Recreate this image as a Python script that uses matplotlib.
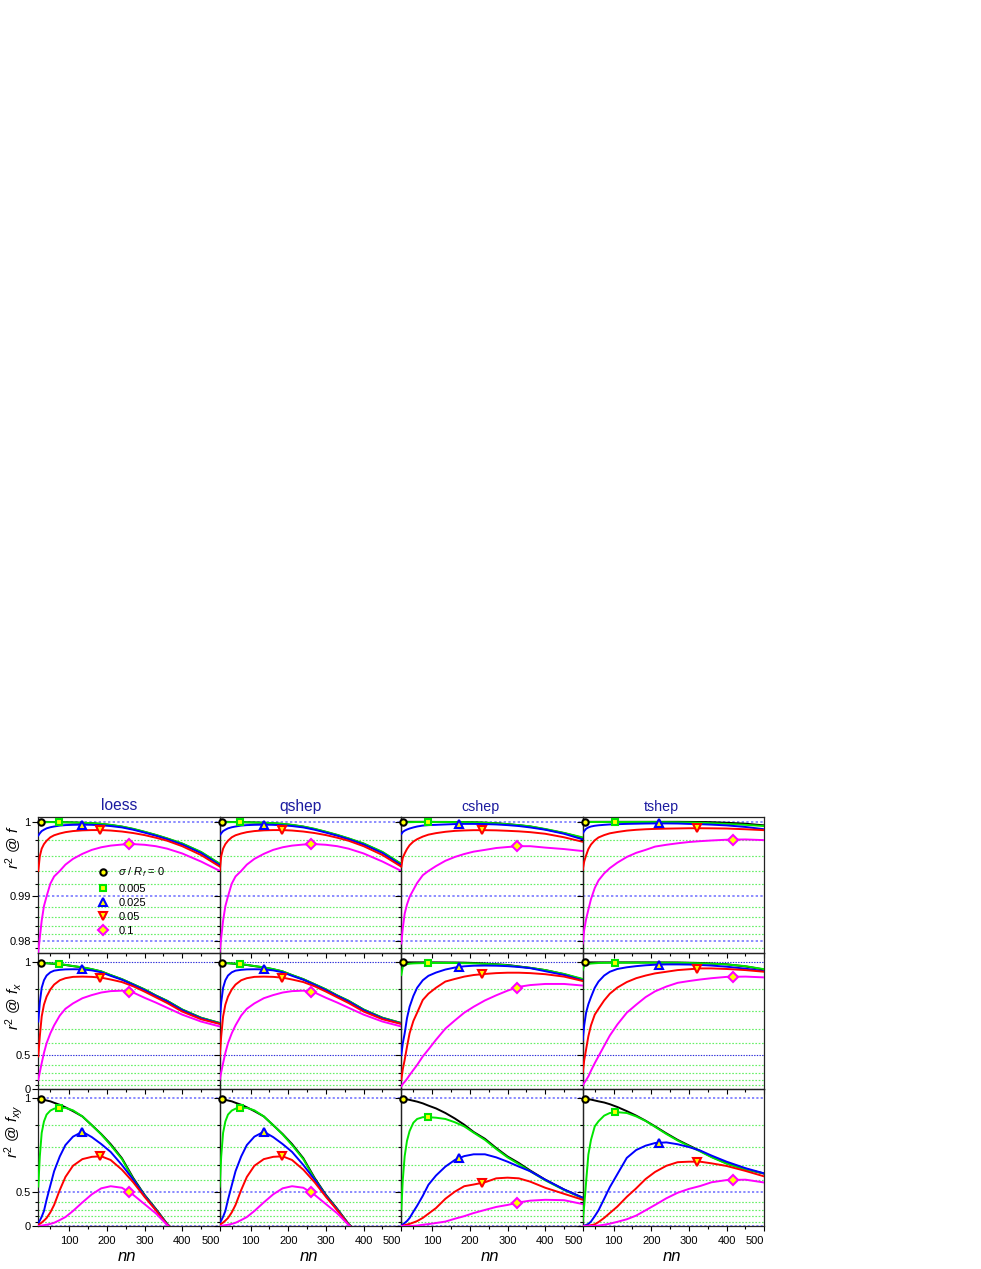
import numpy as np
import matplotlib
matplotlib.use("Agg")
import matplotlib.pyplot as plt
from matplotlib.lines import Line2D
from matplotlib.ticker import FixedLocator, FixedFormatter, NullFormatter

plt.rcParams['font.family'] = ['Liberation Sans', 'DejaVu Sans']
plt.rcParams['mathtext.fontset'] = 'custom'
plt.rcParams['mathtext.rm'] = 'Liberation Sans'
plt.rcParams['mathtext.it'] = 'Liberation Sans:italic'
plt.rcParams['mathtext.bf'] = 'Liberation Sans:bold'

# ---------------- data ----------------
nn = [18, 22, 27, 33, 40, 50, 60, 75, 90, 110, 135, 160, 185, 210, 240, 270, 300, 330, 360, 400, 450, 500]

methods = ['loess', 'qshep', 'cshep', 'tshep']
noise_labels = [r'$\sigma$ / $R_f$ = 0', '0.005', '0.025', '0.05', '0.1']
row_labels = [r'$r^2$ @ $f$', r'$r^2$ @ $f_x$', r'$r^2$ @ $f_{xy}$']

# optimal nn (marker positions) per method, one per noise level
loess_opt = [24, 73, 133, 182, 259]
qshep_opt = [24, 71, 135, 184, 259]
cshep_opt = [23, 90, 171, 231, 324]
tshep_opt = [24, 104, 221, 322, 416]

# r^2 @ f  (rows: sigma = 0, 0.005, 0.025, 0.05, 0.1)
loess_f = [
    [1.0, 1.0, 1.0, 1.0, 0.99999, 0.99998, 0.99997, 0.99996, 0.99995, 0.99993, 0.9999, 0.99985, 0.99977, 0.99966, 0.99948, 0.99922, 0.9989, 0.99855, 0.99815, 0.99755, 0.9965, 0.99495],
    [0.99985, 0.9999, 0.99993, 0.99995, 0.99996, 0.99997, 0.99997, 0.99996, 0.99995, 0.99993, 0.9999, 0.99986, 0.99979, 0.99968, 0.9995, 0.99925, 0.99893, 0.99858, 0.99818, 0.99758, 0.99655, 0.995],
    [0.9985, 0.99875, 0.999, 0.99915, 0.9993, 0.99942, 0.9995, 0.9996, 0.99965, 0.99968, 0.9997, 0.99968, 0.99963, 0.99955, 0.9994, 0.99915, 0.99883, 0.99848, 0.99808, 0.99745, 0.9964, 0.9948],
    [0.994, 0.996, 0.99695, 0.9975, 0.9979, 0.9983, 0.99853, 0.99873, 0.99888, 0.999, 0.99908, 0.99911, 0.99911, 0.99906, 0.99895, 0.99878, 0.99855, 0.99825, 0.9979, 0.99725, 0.99615, 0.9946],
    [0.9765, 0.981, 0.9852, 0.9882, 0.99, 0.9921, 0.9932, 0.994, 0.99488, 0.99565, 0.9963, 0.9968, 0.99712, 0.99732, 0.99745, 0.9975, 0.99742, 0.99725, 0.99695, 0.99635, 0.9953, 0.994],
]
qshep_f = [
    [1.0, 1.0, 1.0, 1.0, 0.99999, 0.99998, 0.99997, 0.99996, 0.99995, 0.99993, 0.9999, 0.99985, 0.99977, 0.99966, 0.99948, 0.99922, 0.9989, 0.99855, 0.99815, 0.99755, 0.9965, 0.99495],
    [0.99985, 0.9999, 0.99993, 0.99995, 0.99996, 0.99997, 0.99997, 0.99996, 0.99995, 0.99993, 0.9999, 0.99986, 0.99979, 0.99968, 0.9995, 0.99925, 0.99893, 0.99858, 0.99818, 0.99758, 0.99655, 0.995],
    [0.9985, 0.99875, 0.999, 0.99915, 0.9993, 0.99942, 0.9995, 0.9996, 0.99965, 0.99968, 0.9997, 0.99968, 0.99963, 0.99955, 0.9994, 0.99915, 0.99883, 0.99848, 0.99808, 0.99745, 0.9964, 0.9948],
    [0.994, 0.996, 0.99695, 0.9975, 0.9979, 0.9983, 0.99853, 0.99873, 0.99888, 0.999, 0.99908, 0.99911, 0.99911, 0.99906, 0.99895, 0.99878, 0.99855, 0.99825, 0.9979, 0.99725, 0.99615, 0.9946],
    [0.9765, 0.981, 0.9852, 0.9882, 0.99, 0.9921, 0.9932, 0.994, 0.99488, 0.99565, 0.9963, 0.9968, 0.99712, 0.99732, 0.99745, 0.9975, 0.99742, 0.99725, 0.99695, 0.99635, 0.9953, 0.994],
]
cshep_f = [
    [1.0, 1.0, 1.0, 1.0, 1.0, 1.0, 1.0, 1.0, 1.0, 0.99999, 0.99999, 0.99998, 0.99997, 0.99995, 0.99991, 0.99985, 0.99975, 0.99964, 0.9995, 0.9992, 0.99877, 0.99822],
    [0.99985, 0.9999, 0.99993, 0.99995, 0.99996, 0.99997, 0.99998, 0.99998, 0.99998, 0.99998, 0.99998, 0.99997, 0.99996, 0.99994, 0.9999, 0.99984, 0.99975, 0.99965, 0.99952, 0.99923, 0.9988, 0.99828],
    [0.99866, 0.9989, 0.99905, 0.99917, 0.99928, 0.9994, 0.9995, 0.9996, 0.99965, 0.99968, 0.99972, 0.99976, 0.99978, 0.99978, 0.99976, 0.99972, 0.99965, 0.99955, 0.9994, 0.99915, 0.9987, 0.99805],
    [0.9946, 0.9958, 0.99635, 0.9969, 0.99737, 0.9978, 0.99808, 0.99838, 0.9986, 0.99877, 0.99892, 0.99902, 0.99907, 0.9991, 0.9991, 0.99908, 0.99903, 0.99897, 0.99888, 0.9987, 0.9983, 0.99777],
    [0.9793, 0.9835, 0.9867, 0.9885, 0.9899, 0.9911, 0.9922, 0.99338, 0.994, 0.99468, 0.9954, 0.9959, 0.99628, 0.99658, 0.9968, 0.99703, 0.99715, 0.99725, 0.99725, 0.99708, 0.9969, 0.99665],
]
tshep_f = [
    [1.0, 1.0, 1.0, 1.0, 1.0, 1.0, 1.0, 1.0, 1.0, 1.0, 1.0, 1.0, 1.0, 1.0, 1.0, 1.0, 0.99999, 0.99998, 0.99996, 0.9999, 0.9998, 0.99962],
    [0.99988, 0.99992, 0.99995, 0.99997, 0.99998, 0.99998, 0.99998, 0.99998, 0.99998, 0.99998, 0.99998, 0.99998, 0.99998, 0.99997, 0.99996, 0.99995, 0.99993, 0.9999, 0.99985, 0.99978, 0.99968, 0.99955],
    [0.99874, 0.999, 0.99925, 0.9994, 0.9995, 0.99958, 0.99963, 0.99968, 0.99972, 0.99975, 0.99978, 0.9998, 0.99982, 0.99983, 0.99983, 0.99982, 0.99978, 0.99975, 0.9997, 0.99962, 0.99945, 0.9992],
    [0.99415, 0.9953, 0.9961, 0.9969, 0.99745, 0.99795, 0.99828, 0.99855, 0.99875, 0.9989, 0.99905, 0.99914, 0.9992, 0.99924, 0.99927, 0.99929, 0.99931, 0.99931, 0.9993, 0.99928, 0.9992, 0.9991],
    [0.9793, 0.983, 0.9855, 0.9875, 0.9895, 0.9914, 0.9926, 0.99365, 0.9944, 0.99515, 0.9959, 0.99643, 0.9968, 0.9972, 0.99742, 0.9976, 0.99775, 0.99785, 0.99793, 0.99802, 0.99805, 0.99797],
]

# r^2 @ f_x
loess_fx = [
    [1.0, 0.9995, 0.999, 0.998, 0.9972, 0.996, 0.995, 0.9935, 0.991, 0.987, 0.9825, 0.976, 0.968, 0.9545, 0.939, 0.919, 0.898, 0.872, 0.848, 0.806, 0.763, 0.733],
    [0.998, 0.998, 0.998, 0.9975, 0.997, 0.9965, 0.9955, 0.994, 0.9915, 0.9875, 0.983, 0.9765, 0.9685, 0.955, 0.9395, 0.9195, 0.8985, 0.8725, 0.8485, 0.8065, 0.7635, 0.7335],
    [0.742, 0.84, 0.905, 0.935, 0.953, 0.965, 0.971, 0.974, 0.9755, 0.976, 0.9755, 0.972, 0.965, 0.952, 0.937, 0.917, 0.895, 0.87, 0.845, 0.803, 0.76, 0.73],
    [0.488, 0.65, 0.77, 0.83, 0.867, 0.898, 0.918, 0.935, 0.943, 0.948, 0.949, 0.948, 0.945, 0.938, 0.928, 0.911, 0.889, 0.864, 0.838, 0.796, 0.755, 0.728],
    [0.196, 0.31, 0.42, 0.52, 0.6, 0.67, 0.72, 0.775, 0.81, 0.836, 0.86, 0.874, 0.885, 0.891, 0.893, 0.885, 0.862, 0.84, 0.815, 0.78, 0.742, 0.713],
]
qshep_fx = [
    [1.0, 0.9995, 0.999, 0.998, 0.9972, 0.996, 0.995, 0.9935, 0.991, 0.987, 0.9825, 0.976, 0.968, 0.9545, 0.939, 0.919, 0.898, 0.872, 0.848, 0.806, 0.763, 0.733],
    [0.998, 0.998, 0.998, 0.9975, 0.997, 0.9965, 0.9955, 0.994, 0.9915, 0.9875, 0.983, 0.9765, 0.9685, 0.955, 0.9395, 0.9195, 0.8985, 0.8725, 0.8485, 0.8065, 0.7635, 0.7335],
    [0.742, 0.84, 0.905, 0.935, 0.953, 0.965, 0.971, 0.974, 0.9755, 0.976, 0.9755, 0.972, 0.965, 0.952, 0.937, 0.917, 0.895, 0.87, 0.845, 0.803, 0.76, 0.73],
    [0.488, 0.65, 0.77, 0.83, 0.867, 0.898, 0.918, 0.935, 0.943, 0.948, 0.949, 0.948, 0.945, 0.938, 0.928, 0.911, 0.889, 0.864, 0.838, 0.796, 0.755, 0.728],
    [0.196, 0.31, 0.42, 0.52, 0.6, 0.67, 0.72, 0.775, 0.81, 0.836, 0.86, 0.874, 0.885, 0.891, 0.893, 0.885, 0.862, 0.84, 0.815, 0.78, 0.742, 0.713],
]
cshep_fx = [
    [1.0, 1.0, 1.0, 1.0, 1.0, 1.0, 1.0, 1.0, 1.0, 0.9999, 0.9997, 0.9995, 0.999, 0.998, 0.996, 0.9935, 0.991, 0.986, 0.981, 0.973, 0.958, 0.938],
    [0.955, 0.985, 0.9915, 0.994, 0.9955, 0.9965, 0.997, 0.9975, 0.9978, 0.998, 0.998, 0.9978, 0.9972, 0.9965, 0.995, 0.993, 0.99, 0.9855, 0.981, 0.973, 0.959, 0.94],
    [0.503, 0.6, 0.67, 0.76, 0.82, 0.87, 0.905, 0.935, 0.952, 0.964, 0.975, 0.982, 0.9865, 0.9885, 0.989, 0.9885, 0.987, 0.984, 0.98, 0.969, 0.955, 0.934],
    [0.196, 0.35, 0.455, 0.57, 0.67, 0.745, 0.79, 0.852, 0.88, 0.905, 0.93, 0.94, 0.949, 0.955, 0.959, 0.962, 0.9635, 0.9635, 0.962, 0.958, 0.949, 0.932],
    [0.07, 0.12, 0.16, 0.21, 0.27, 0.34, 0.4, 0.488, 0.55, 0.625, 0.7, 0.748, 0.79, 0.82, 0.85, 0.873, 0.893, 0.909, 0.916, 0.9205, 0.9205, 0.914],
]
tshep_fx = [
    [1.0, 1.0, 1.0, 1.0, 1.0, 1.0, 1.0, 1.0, 1.0, 1.0, 1.0, 1.0, 0.9999, 0.9998, 0.9997, 0.9995, 0.9988, 0.998, 0.996, 0.9935, 0.986, 0.975],
    [0.973, 0.988, 0.992, 0.9945, 0.996, 0.997, 0.9978, 0.9983, 0.9986, 0.9988, 0.9988, 0.9988, 0.9988, 0.9988, 0.9988, 0.9985, 0.998, 0.997, 0.9955, 0.993, 0.987, 0.976],
    [0.624, 0.72, 0.79, 0.832, 0.865, 0.905, 0.93, 0.953, 0.967, 0.977, 0.983, 0.987, 0.99, 0.992, 0.993, 0.993, 0.9925, 0.991, 0.989, 0.985, 0.978, 0.969],
    [0.3, 0.45, 0.55, 0.65, 0.72, 0.78, 0.81, 0.85, 0.88, 0.906, 0.928, 0.943, 0.953, 0.961, 0.967, 0.973, 0.976, 0.979, 0.979, 0.977, 0.973, 0.967],
    [0.083, 0.14, 0.19, 0.25, 0.33, 0.42, 0.49, 0.58, 0.655, 0.725, 0.79, 0.83, 0.865, 0.89, 0.91, 0.925, 0.932, 0.938, 0.943, 0.948, 0.949, 0.946],
]

# r^2 @ f_xy
loess_fxy = [
    [1.0, 0.999, 0.997, 0.995, 0.993, 0.99, 0.985, 0.978, 0.969, 0.955, 0.935, 0.9, 0.862, 0.815, 0.74, 0.6125, 0.47, 0.31, 0.05, -0.5, -1.0, -1.5],
    [0.545, 0.75, 0.867, 0.915, 0.942, 0.957, 0.964, 0.967, 0.967, 0.958, 0.935, 0.9, 0.86, 0.81, 0.735, 0.605, 0.465, 0.305, 0.045, -0.5, -1.0, -1.5],
    [0.07, 0.12, 0.19, 0.28, 0.42, 0.555, 0.66, 0.75, 0.81, 0.85, 0.872, 0.848, 0.815, 0.775, 0.7, 0.6, 0.46, 0.3, 0.04, -0.5, -1.0, -1.5],
    [0.03, 0.05, 0.08, 0.12, 0.168, 0.26, 0.36, 0.515, 0.62, 0.695, 0.735, 0.748, 0.751, 0.73, 0.67, 0.58, 0.45, 0.29, 0.035, -0.5, -1.0, -1.5],
    [0.0, 0.005, 0.01, 0.02, 0.03, 0.05, 0.075, 0.13, 0.185, 0.28, 0.39, 0.475, 0.53, 0.548, 0.535, 0.47, 0.37, 0.245, 0.025, -0.5, -1.0, -1.5],
]
qshep_fxy = [
    [1.0, 0.999, 0.997, 0.995, 0.993, 0.99, 0.985, 0.978, 0.969, 0.955, 0.935, 0.9, 0.862, 0.815, 0.74, 0.6125, 0.47, 0.31, 0.05, -0.5, -1.0, -1.5],
    [0.545, 0.75, 0.867, 0.915, 0.942, 0.957, 0.964, 0.967, 0.967, 0.958, 0.935, 0.9, 0.86, 0.81, 0.735, 0.605, 0.465, 0.305, 0.045, -0.5, -1.0, -1.5],
    [0.07, 0.12, 0.19, 0.28, 0.42, 0.555, 0.66, 0.75, 0.81, 0.85, 0.872, 0.848, 0.815, 0.775, 0.7, 0.6, 0.46, 0.3, 0.04, -0.5, -1.0, -1.5],
    [0.03, 0.05, 0.08, 0.12, 0.168, 0.26, 0.36, 0.515, 0.62, 0.695, 0.735, 0.748, 0.751, 0.73, 0.67, 0.58, 0.45, 0.29, 0.035, -0.5, -1.0, -1.5],
    [0.0, 0.005, 0.01, 0.02, 0.03, 0.05, 0.075, 0.13, 0.185, 0.28, 0.39, 0.475, 0.53, 0.548, 0.535, 0.47, 0.37, 0.245, 0.025, -0.5, -1.0, -1.5],
]
cshep_fxy = [
    [1.0, 0.999, 0.998, 0.997, 0.995, 0.992, 0.989, 0.983, 0.975, 0.965, 0.948, 0.927, 0.902, 0.871, 0.84, 0.795, 0.75, 0.712, 0.665, 0.6, 0.52, 0.44],
    [0.3, 0.6, 0.752, 0.83, 0.875, 0.91, 0.925, 0.932, 0.932, 0.93, 0.925, 0.912, 0.895, 0.868, 0.835, 0.79, 0.745, 0.705, 0.66, 0.595, 0.515, 0.435],
    [0.02, 0.04, 0.07, 0.11, 0.168, 0.27, 0.35, 0.46, 0.56, 0.63, 0.69, 0.73, 0.752, 0.762, 0.762, 0.745, 0.72, 0.69, 0.66, 0.6, 0.52, 0.44],
    [0.0, 0.01, 0.02, 0.035, 0.05, 0.08, 0.11, 0.17, 0.24, 0.32, 0.43, 0.5, 0.548, 0.562, 0.58, 0.61, 0.615, 0.61, 0.585, 0.535, 0.48, 0.419],
    [0.0, 0.0, 0.001, 0.002, 0.003, 0.005, 0.01, 0.03, 0.045, 0.07, 0.1, 0.155, 0.2, 0.25, 0.295, 0.335, 0.36, 0.39, 0.41, 0.419, 0.415, 0.37],
]
tshep_fxy = [
    [1.0, 0.999, 0.998, 0.997, 0.996, 0.993, 0.99, 0.986, 0.98, 0.97, 0.955, 0.938, 0.918, 0.895, 0.865, 0.835, 0.808, 0.78, 0.748, 0.71, 0.673, 0.6435],
    [0.11, 0.35, 0.58, 0.76, 0.835, 0.895, 0.916, 0.938, 0.948, 0.951, 0.948, 0.935, 0.917, 0.893, 0.862, 0.832, 0.805, 0.777, 0.746, 0.708, 0.672, 0.645],
    [0.0, 0.01, 0.025, 0.05, 0.1, 0.2, 0.29, 0.43, 0.54, 0.64, 0.742, 0.785, 0.807, 0.82, 0.823, 0.814, 0.8, 0.782, 0.755, 0.72, 0.68, 0.645],
    [0.0, 0.002, 0.005, 0.01, 0.02, 0.04, 0.09, 0.17, 0.25, 0.34, 0.45, 0.53, 0.605, 0.655, 0.695, 0.717, 0.72, 0.72, 0.71, 0.694, 0.662, 0.624],
    [0.0, 0.0, 0.0, 0.001, 0.002, 0.004, 0.01, 0.03, 0.055, 0.095, 0.145, 0.21, 0.29, 0.36, 0.435, 0.49, 0.525, 0.55, 0.58, 0.597, 0.6, 0.578],
]

panels = [
    [loess_f, qshep_f, cshep_f, tshep_f],
    [loess_fx, qshep_fx, cshep_fx, tshep_fx],
    [loess_fxy, qshep_fxy, cshep_fxy, tshep_fxy],
]
opts = [loess_opt, qshep_opt, cshep_opt, tshep_opt]

# ---------------- styles ----------------
line_colors = ['#000000', '#00e600', '#0000ff', '#ff0000', '#ff00ff']
markers = ['o', 's', '^', 'v', 'D']
msizes = [4.6, 5.0, 6.0, 6.0, 5.0]
yellow = '#ffff00'
title_color = '#1c1ca0'

W, H = 981, 1269
fig = plt.figure(figsize=(W / 100, H / 100), dpi=100)

col_left = [38.3, 219.7, 401.3, 582.7]
col_w = 181.6
row_top = [817.0, 953.3, 1089.3]
row_h = [136.3, 136.0, 136.7]

k_top = 50.8
k_low = 2.0


def fwd_top(v):
    return np.exp(k_top * (np.asarray(v, dtype=float) - 1.0))


def inv_top(y):
    return 1.0 + np.log(np.maximum(np.asarray(y, dtype=float), 1e-300)) / k_top


def fwd_low(v):
    return np.exp(k_low * np.asarray(v, dtype=float))


def inv_low(y):
    return np.log(np.maximum(np.asarray(y, dtype=float), 1e-300)) / k_low


top_major = [0.98, 0.99, 1.0]
top_minor = [0.978, 0.982, 0.984, 0.986, 0.988, 0.992, 0.994, 0.996, 0.998]
low_major = [0.0, 0.5, 1.0]
low_minor = [0.1, 0.2, 0.3, 0.4, 0.6, 0.7, 0.8, 0.9]

axes = []
for r in range(3):
    for c in range(4):
        l = col_left[c]
        t = row_top[r]
        h = row_h[r]
        ax = fig.add_axes([l / W, 1 - (t + h) / H, col_w / W, h / H])
        ax.set_facecolor('none')
        if r == 0:
            ax.set_yscale('function', functions=(fwd_top, inv_top))
            ax.set_ylim(0.9761, 1.0005)
            ax.yaxis.set_major_locator(FixedLocator(top_major))
            ax.yaxis.set_minor_locator(FixedLocator(top_minor))
            ylabels = ['0.98', '0.99', '1']
            maj_col, maj_lw = '#8c8cff', 1.4
        else:
            ax.set_yscale('function', functions=(fwd_low, inv_low))
            ax.set_ylim(0.0, 1.03)
            ax.yaxis.set_major_locator(FixedLocator(low_major))
            ax.yaxis.set_minor_locator(FixedLocator(low_minor))
            ylabels = ['0', '0.5', '1']
            if r == 1:
                maj_col, maj_lw = '#2a2ad8', 0.8
            else:
                maj_col, maj_lw = '#8080ff', 1.3
        ax.yaxis.set_minor_formatter(NullFormatter())
        if c == 0:
            ax.yaxis.set_major_formatter(FixedFormatter(ylabels))
        else:
            ax.yaxis.set_major_formatter(NullFormatter())

        ax.set_xlim(18, 500)
        ax.xaxis.set_major_locator(FixedLocator([100, 200, 300, 400, 500]))
        ax.xaxis.set_minor_locator(FixedLocator([50, 150, 250, 350, 450]))
        ax.xaxis.set_minor_formatter(NullFormatter())
        if r == 2:
            ax.xaxis.set_major_formatter(FixedFormatter(['100', '200', '300', '400', '500']))
        else:
            ax.xaxis.set_major_formatter(NullFormatter())

        ax.yaxis.grid(True, which='major', color=maj_col, linestyle=(0, (1.2, 1.2)), linewidth=maj_lw)
        ax.yaxis.grid(True, which='minor', color='#66f066', linestyle=(0, (1.4, 1.4)), linewidth=0.85)
        ax.xaxis.grid(False)

        ax.tick_params(axis='both', which='both', direction='out', width=0.8, colors='black',
                       labelsize=8)
        ax.tick_params(axis='y', which='major', length=4, pad=1.5, left=True, right=False)
        ax.tick_params(axis='y', which='minor', length=2.2, left=True, right=False)
        ax.tick_params(axis='x', which='major', length=3.5, pad=3.5, bottom=True, top=False)
        ax.tick_params(axis='x', which='minor', length=2.2, bottom=True, top=False)
        for sp in ax.spines.values():
            sp.set_linewidth(0.9)
            sp.set_color('#222222')

        data = panels[r][c]
        opt = opts[c]
        for s in range(5):
            ax.plot(nn, data[s], color=line_colors[s], lw=1.4, zorder=3 + s * 0.01,
                    solid_joinstyle='round', clip_on=True)
        for s in range(5):
            ym = np.interp(opt[s], nn, data[s])
            ax.plot([opt[s]], [ym], linestyle='none', marker=markers[s], ms=msizes[s],
                    mfc=yellow, mec=line_colors[s], mew=1.5, zorder=5, clip_on=False)
        if r == 2:
            labs = ax.get_xticklabels()
            labs[-1].set_horizontalalignment('right')
        axes.append(ax)

# legend in the first panel
handles = [Line2D([], [], linestyle='none', marker=markers[s], ms=msizes[s], mfc=yellow,
                  mec=line_colors[s], mew=1.5) for s in range(5)]
axes[0].legend(handles, noise_labels, loc='upper left', bbox_to_anchor=(0.318, 0.643),
               frameon=False, fontsize=8, handlelength=1.2, handletextpad=0.8,
               labelspacing=0.38, borderpad=0.0, borderaxespad=0.0)

# column titles
title_x = [119.5, 301.0, 481.0, 661.0]
title_fs = [11.2, 11.2, 10.3, 10.3]
for c in range(4):
    fig.text(title_x[c] / W, 1 - 810.5 / H, methods[c], color=title_color,
             fontsize=title_fs[c], ha='center', va='baseline')

# row labels
ylab_y = [847.5, 1006.0, 1131.7]
for r in range(3):
    fig.text(14.0 / W, 1 - ylab_y[r] / H, row_labels[r], rotation=90, ha='center',
             va='center', fontsize=11)

# x labels
for c in range(4):
    fig.text((col_left[c] + col_w / 2 - 2) / W, 1 - 1256.7 / H, 'nn', fontstyle='italic',
             ha='center', va='center', fontsize=12)

fig.savefig('out.png', dpi=100)
